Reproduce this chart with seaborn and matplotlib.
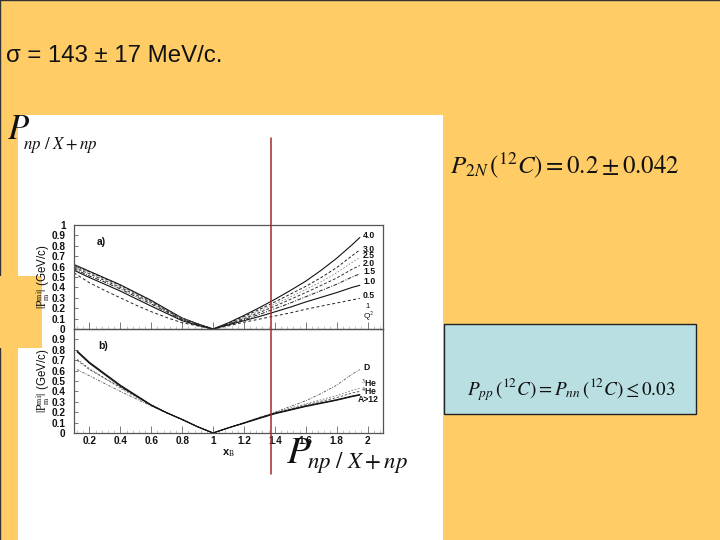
import matplotlib
matplotlib.use('Agg')
import matplotlib.pyplot as plt
import seaborn as sns
from matplotlib.patches import Rectangle

# Data
x_a = [0.1, 0.2, 0.3, 0.4, 0.5, 0.6, 0.7, 0.8, 0.9, 1.0,
       1.1, 1.2, 1.3, 1.4, 1.5, 1.6, 1.7, 1.8, 1.9, 1.95]
q2_labels = ['4.0', '3.0', '2.5', '2.0', '1.5', '1.0', '0.5']
q2_40 = [0.62, 0.555, 0.49, 0.425, 0.35, 0.275, 0.19, 0.105, 0.05, 0.0,
         0.06, 0.13, 0.205, 0.285, 0.37, 0.46, 0.565, 0.68, 0.81, 0.88]
q2_30 = [0.61, 0.55, 0.485, 0.42, 0.345, 0.27, 0.185, 0.105, 0.05, 0.0,
         0.055, 0.12, 0.188, 0.26, 0.335, 0.41, 0.495, 0.59, 0.705, 0.76]
q2_25 = [0.60, 0.54, 0.475, 0.41, 0.338, 0.263, 0.18, 0.10, 0.045, 0.0,
         0.05, 0.11, 0.173, 0.24, 0.308, 0.38, 0.455, 0.54, 0.64, 0.69]
q2_20 = [0.59, 0.53, 0.465, 0.40, 0.328, 0.255, 0.175, 0.095, 0.045, 0.0,
         0.05, 0.10, 0.158, 0.22, 0.285, 0.35, 0.42, 0.49, 0.575, 0.61]
q2_15 = [0.58, 0.51, 0.45, 0.385, 0.312, 0.24, 0.165, 0.09, 0.04, 0.0,
         0.045, 0.09, 0.14, 0.195, 0.25, 0.31, 0.37, 0.43, 0.50, 0.53]
q2_10 = [0.565, 0.495, 0.43, 0.365, 0.292, 0.22, 0.15, 0.08, 0.035, 0.0,
         0.04, 0.08, 0.12, 0.165, 0.21, 0.26, 0.305, 0.35, 0.40, 0.42]
q2_05 = [0.54, 0.445, 0.37, 0.30, 0.23, 0.167, 0.11, 0.06, 0.03, 0.0,
         0.03, 0.065, 0.095, 0.125, 0.155, 0.19, 0.22, 0.25, 0.28, 0.295]
curves_a = [q2_40, q2_30, q2_25, q2_20, q2_15, q2_10, q2_05]

x_b = [0.12, 0.2, 0.3, 0.4, 0.5, 0.6, 0.7, 0.8, 0.9, 1.0,
       1.1, 1.2, 1.3, 1.4, 1.5, 1.6, 1.7, 1.8, 1.9, 1.95]
curve_d = [0.61, 0.55, 0.475, 0.40, 0.33, 0.26, 0.19, 0.13, 0.06, 0.0,
           0.05, 0.10, 0.15, 0.20, 0.255, 0.31, 0.38, 0.46, 0.565, 0.61]
curve_3he = [0.71, 0.62, 0.525, 0.43, 0.345, 0.265, 0.195, 0.13, 0.06, 0.0,
             0.05, 0.10, 0.15, 0.195, 0.24, 0.28, 0.32, 0.36, 0.41, 0.43]
curve_4he = [0.70, 0.61, 0.525, 0.44, 0.355, 0.27, 0.195, 0.13, 0.06, 0.0,
             0.05, 0.095, 0.145, 0.19, 0.23, 0.27, 0.305, 0.34, 0.385, 0.40]
curve_a12 = [0.79, 0.68, 0.57, 0.46, 0.365, 0.27, 0.195, 0.13, 0.06, 0.0,
             0.05, 0.095, 0.145, 0.19, 0.225, 0.26, 0.29, 0.32, 0.355, 0.37]
curve_a12b = [0.78, 0.67, 0.56, 0.45, 0.358, 0.265, 0.195, 0.13, 0.06, 0.0,
              0.05, 0.095, 0.14, 0.185, 0.22, 0.255, 0.285, 0.315, 0.35, 0.365]
curves_b = [curve_d, curve_3he, curve_4he, curve_a12, curve_a12b]

yticks_a = [0, 0.1, 0.2, 0.3, 0.4, 0.5, 0.6, 0.7, 0.8, 0.9, 1]
yticks_b = [0, 0.1, 0.2, 0.3, 0.4, 0.5, 0.6, 0.7, 0.8, 0.9]
xticks = [0.2, 0.4, 0.6, 0.8, 1, 1.2, 1.4, 1.6, 1.8, 2]

styles_a = [('-', '#111111', 0.8), ((0, (3, 2)), '#222222', 0.7), ((0, (2, 2)), '#888888', 0.6),
            ((0, (3, 2)), '#333333', 0.7), ((0, (4, 1.5, 1, 1.5)), '#222222', 0.7),
            ('-', '#111111', 0.8), ((0, (3, 2.5)), '#222222', 0.7)]
styles_b = [((0, (3, 1.5, 1, 1.5)), '#555555', 0.6), ((0, (2, 2)), '#777777', 0.6),
            ((0, (3, 2)), '#444444', 0.6), ('-', '#111111', 0.8), ('-', '#111111', 0.8)]

sns.set_theme(style='white')
plt.rcParams['font.family'] = ['Liberation Sans', 'DejaVu Sans']
plt.rcParams['mathtext.fontset'] = 'stix'

W, H = 720, 540
ORANGE = '#FFCC66'
INK = '#111111'
fig = plt.figure(figsize=(W / 100, H / 100), dpi=100, facecolor=ORANGE)


def px_axes(x0, y0, x1, y1, **kw):
    # axes from pixel box, y counted from the top
    return fig.add_axes([x0 / W, 1 - y1 / H, (x1 - x0) / W, (y1 - y0) / H], **kw)


# slide background
bg = px_axes(0, 0, W, H, zorder=0)
bg.set_xlim(0, W)
bg.set_ylim(H, 0)
bg.axis('off')
bg.add_patch(Rectangle((18, 115), 425, 425, color='white', lw=0))
bg.plot([0.2, 0.2], [0, H], color='#333333', lw=1)
bg.plot([0, W], [0.3, 0.3], color='#333333', lw=1)

# the two panels
ax_a = px_axes(74, 225, 383, 329, zorder=1)
ax_b = px_axes(74, 329, 383, 433, zorder=1)

for y, (ls, c, lw) in zip(curves_a, styles_a):
    sns.lineplot(x=x_a, y=y, ax=ax_a, color=c, linewidth=lw, linestyle=ls, errorbar=None)
for y, (ls, c, lw) in zip(curves_b, styles_b):
    sns.lineplot(x=x_b, y=y, ax=ax_b, color=c, linewidth=lw, linestyle=ls, errorbar=None)

for ax, yt in ((ax_a, yticks_a), (ax_b, yticks_b)):
    ax.set_xlim(0.1, 2.1)
    ax.set_ylim(0, 1)
    ax.set_facecolor('none')
    ax.set_xticks(xticks)
    ax.set_yticks(yt)
    ax.set_xticks([0.12 + 0.04 * i for i in range(50)], minor=True)
    ax.tick_params(axis='x', which='major', direction='in', length=5, width=0.6, color='#666666',
                   bottom=True, pad=2.5, labelsize=7.2, labelcolor=INK)
    ax.tick_params(axis='x', which='minor', direction='in', length=2, width=0.4, color='#999999',
                   bottom=True)
    ax.tick_params(axis='y', which='major', direction='in', length=3, width=0.6, color='#666666',
                   left=True, pad=6, labelsize=7.2, labelcolor=INK)
    for s in ax.spines.values():
        s.set_color('#555555')
        s.set_linewidth(0.9)
    ax.set_yticklabels([f'{t:g}' for t in yt], fontweight='bold')

ax_a.tick_params(labelbottom=False)
ax_b.set_xticklabels([f'{t:g}' for t in xticks], fontweight='bold')

# overlay with texts, red line and boxes
top = px_axes(0, 0, W, H, zorder=3)
top.set_xlim(0, W)
top.set_ylim(H, 0)
top.axis('off')

top.add_patch(Rectangle((0, 276), 42, 72, color=ORANGE, lw=0))
top.plot([270.5, 270.5], [138, 474], color='#A52A2A', lw=1.1)
top.add_patch(Rectangle((444, 324), 252, 90, facecolor='#B9DFE3', edgecolor='#222222', lw=1))

top.text(6, 56, 'σ = 143 ± 17 MeV/c.', fontsize=17.3, color=INK, va='center', ha='left')

ylabel = r'$|\mathrm{P}_{\mathrm{m}}^{\mathrm{mi}}|$ (GeV/c)'
top.text(43, 277, ylabel, rotation=90, fontsize=8.3, ha='center', va='center', color=INK)
top.text(43, 381, ylabel, rotation=90, fontsize=8.3, ha='center', va='center', color=INK)

top.text(97, 242, 'a)', fontsize=7.5, fontweight='bold', va='center', color=INK)
top.text(98, 346, 'b)', fontsize=7.5, fontweight='bold', va='center', color=INK)
top.text(222, 453, r'x$_{\mathrm{B}}$', fontsize=8, fontweight='bold', va='center', color=INK)

# curve labels
for label, ypx in zip(q2_labels, [235, 249, 255.5, 264, 272, 282, 295]):
    top.text(363, ypx, label, fontsize=6.2, fontweight='bold', va='center', color=INK)
top.text(365, 307, '1', fontsize=5.5, va='center', color=INK)
top.text(363, 316, r'Q$^2$', fontsize=6, va='center', color=INK)
top.text(363, 368, 'D', fontsize=6.2, fontweight='bold', va='center', color=INK)
top.text(361, 383, r'$^{3}$He', fontsize=6.2, fontweight='bold', va='center', color=INK)
top.text(361, 391.5, r'$^{4}$He', fontsize=6.2, fontweight='bold', va='center', color=INK)
top.text(358, 399.5, 'A>12', fontsize=6.2, fontweight='bold', va='center', color=INK)

# formulas, big P with a smaller subscript set apart
sub = r'$np\ /\ X+np$'
top.text(7, 139, r'$P$', fontsize=25, va='baseline', color=INK)
top.text(23, 149, sub, fontsize=12.2, va='baseline', color=INK)
top.text(286, 463, r'$P$', fontsize=28, va='baseline', color=INK)
top.text(307, 468, sub, fontsize=16.5, va='baseline', color=INK)
top.text(450, 165, r'$P_{2N}\,(^{12}C) = 0.2 \pm 0.042$', fontsize=18, va='center', color=INK)
top.text(467, 390, r'$P_{pp}\,(^{12}C) = P_{nn}\,(^{12}C) \leq 0.03$', fontsize=13.8,
         va='center', color=INK)

fig.savefig('out.png', dpi=100, facecolor=ORANGE)
